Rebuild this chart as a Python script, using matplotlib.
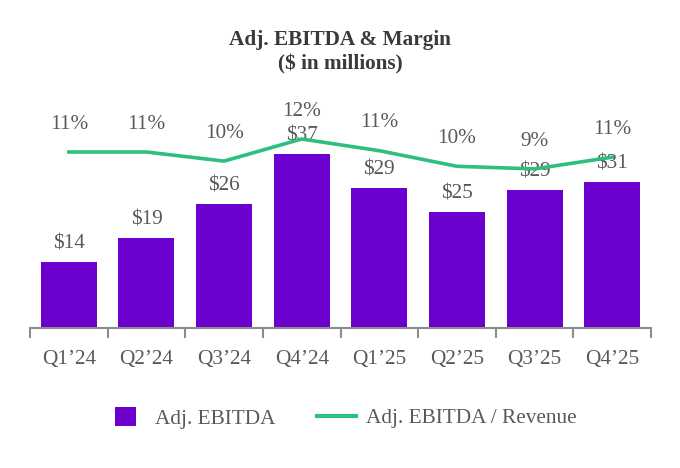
import matplotlib
matplotlib.use("Agg")
import matplotlib.pyplot as plt
from matplotlib.lines import Line2D
from matplotlib.patches import Patch

plt.rcParams['font.family'] = ['Liberation Serif', 'DejaVu Serif']

quarters = ["Q1\u201924", "Q2\u201924", "Q3\u201924", "Q4\u201924",
            "Q1\u201925", "Q2\u201925", "Q3\u201925", "Q4\u201925"]
ebitda = [14.0, 19.1, 26.4, 37.0, 29.8, 24.7, 29.4, 31.1]
ebitda_labels = ["$14", "$19", "$26", "$37", "$29", "$25", "$29", "$31"]
margin = [11.2, 11.2, 10.5, 12.2, 11.3, 10.1, 9.9, 10.8]
margin_labels = ["11%", "11%", "10%", "12%", "11%", "10%", "9%", "11%"]

PURPLE = "#6C00CF"
GREEN = "#2DBF7F"
GREY = "#595959"
AXIS = "#8C8C8C"
FS = 15.3

fig = plt.figure(figsize=(6.8, 4.68), dpi=100)
ax = fig.add_axes([30/680, 1 - 328/468, 621/680, 238/468])
x = list(range(len(quarters)))
ax.bar(x, ebitda, width=0.72, color=PURPLE, zorder=2)
ax.set_xlim(-0.5, len(quarters) - 0.5)
ax.set_ylim(0, 238/4.7)
for xi, v, lab in zip(x, ebitda, ebitda_labels):
    ax.annotate(lab, (xi, v), xytext=(0, 13), textcoords="offset points",
                ha="center", va="center", fontsize=FS, color=GREY, zorder=3)

for s in ["top", "right", "left"]:
    ax.spines[s].set_visible(False)
ax.spines["bottom"].set_color(AXIS)
ax.spines["bottom"].set_linewidth(1.5)
ax.set_yticks([])
ax.set_xticks(x)
ax.set_xticklabels(quarters, fontsize=FS, color=GREY)
ax.tick_params(axis="x", which="major", length=0, pad=15.5)
ax.set_xticks([i - 0.5 for i in range(len(quarters) + 1)], minor=True)
ax.tick_params(axis="x", which="minor", length=7, width=1.5, color=AXIS, direction="out")

ax2 = ax.twinx()
lo = 11.2 - 176/13
ax2.set_ylim(lo, lo + 238/13)
ax2.plot(x, margin, color=GREEN, lw=2.6, zorder=4)
for xi, v, lab in zip(x, margin, margin_labels):
    ax2.annotate(lab, (xi, v), xytext=(0, 20), textcoords="offset points",
                 ha="center", va="center", fontsize=FS, color=GREY)
ax2.axis("off")

fig.text(0.5, 1 - 40/468, "Adj. EBITDA & Margin", ha="center", va="center",
         fontsize=FS, fontweight="bold", color="#3A3A3A")
fig.text(0.5, 1 - 64/468, "($ in millions)", ha="center", va="center",
         fontsize=FS, fontweight="bold", color="#3A3A3A")

leg_y = 1 - 418/468
fig.legend([Patch(facecolor=PURPLE, edgecolor="none")], ["Adj. EBITDA"],
           loc="center left", bbox_to_anchor=(115/680, leg_y),
           frameon=False, fontsize=FS, labelcolor=GREY, borderpad=0, borderaxespad=0,
           handlelength=1.0, handleheight=1.0, handletextpad=0.9)
fig.legend([Line2D([0], [0], color=GREEN, lw=3)], ["Adj. EBITDA / Revenue"],
           loc="center left", bbox_to_anchor=(317/680, leg_y),
           frameon=False, fontsize=FS, labelcolor=GREY, borderpad=0, borderaxespad=0,
           handlelength=1.85, handletextpad=0.45)

fig.savefig("out.png", dpi=100, facecolor="white")
